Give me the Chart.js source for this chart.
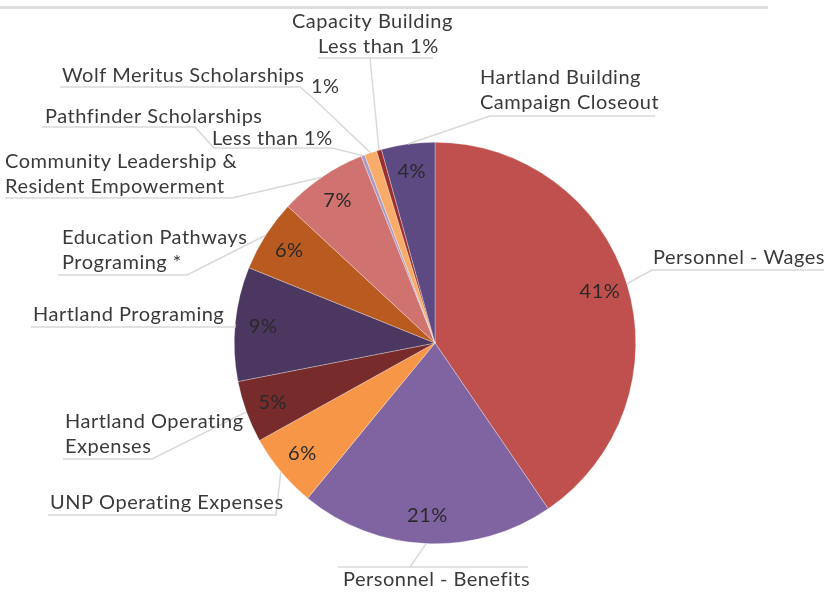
<!DOCTYPE html>
<html>
<head>
<meta charset="utf-8">
<script src="https://cdn.jsdelivr.net/npm/chart.js"></script>
<style>
  body { margin: 0; background: #fff; }
  #wrap { position: relative; width: 825px; height: 593px; }
  #topline { position: absolute; left: 0; top: 6px; width: 768px; height: 3px; background: #dedede; }
</style>
</head>
<body>
<div id="wrap">
  <div id="topline"></div>
  <canvas id="myChart" width="825" height="593"></canvas>
</div>
<script>
// slices, clockwise from 12 o'clock
const categories = ['Personnel - Wages', 'Personnel - Benefits', 'UNP Operating Expenses',
    'Hartland Operating Expenses', 'Hartland Programing', 'Education Pathways Programing *',
    'Community Leadership & Resident Empowerment', 'Pathfinder Scholarships',
    'Wolf Meritus Scholarships', 'Capacity Building', 'Hartland Building Campaign Closeout'];
const values = [40.5, 20.5, 6, 5, 9.2, 5.8, 7.1, 0.3, 1.0, 0.4, 4.3];
const pctLabels = ['41%', '21%', '6%', '5%', '9%', '6%', '7%', 'Less than 1%', '1%', 'Less than 1%', '4%'];
const colors = ['#c0504d', '#8064a2', '#f79646', '#772b2b', '#4b3760', '#b95b20',
    '#cf7270', '#a99bc6', '#f9ac6a', '#9c2f2c', '#5e4a82'];

// where the callout text of each slice sits (text lines, rule under it, leader start)
const callouts = [
    { lines: ['Personnel - Wages'], x: 653, y: 258, path: [[824, 270], [652, 270]] },
    { lines: ['Personnel - Benefits'], x: 343, y: 580, rule: [338, 528, 567], path: [[410, 567]] },
    { lines: ['UNP Operating Expenses'], x: 50, y: 503, path: [[48, 515], [276, 515]] },
    { lines: ['Hartland Operating', 'Expenses'], x: 65, y: 422, path: [[63, 459], [152, 459]] },
    { lines: ['Hartland Programing'], x: 33, y: 315, path: [[31, 327], [235, 327]] },
    { lines: ['Education Pathways', 'Programing *'], x: 62, y: 238, path: [[58, 275], [187, 275]] },
    { lines: ['Community Leadership &', 'Resident Empowerment'], x: 5, y: 162, path: [[5, 198], [232, 198]] },
    { lines: ['Pathfinder Scholarships'], x: 45, y: 117, value: [212, 139],
      path: [[42, 127], [195, 127], [214, 148], [332, 148]] },
    { lines: ['Wolf Meritus Scholarships'], x: 62, y: 76, value: [311, 87],
      path: [[60, 87], [300, 87], [313, 98]] },
    { lines: ['Capacity Building'], x: 292, y: 22, value: [318, 47], rule: [318, 433, 58], path: [[370, 58]] },
    { lines: ['Hartland Building', 'Campaign Closeout'], x: 480, y: 78, path: [[655, 116], [490, 116]] },
];

const FONT = '20px Lato';
const TEXT = '#3a3a3a';

const calloutPlugin = {
    id: 'callouts',
    afterDatasetsDraw(chart) {
        const ctx = chart.ctx;
        const arcs = chart.getDatasetMeta(0).data;
        ctx.save();
        ctx.font = FONT;
        ctx.letterSpacing = '0.5px';
        ctx.textBaseline = 'middle';
        arcs.forEach((arc, i) => {
            const p = arc.getProps(['x', 'y', 'startAngle', 'endAngle', 'outerRadius'], true);
            const mid = (p.startAngle + p.endAngle) / 2;
            const c = callouts[i];

            // leader line
            ctx.strokeStyle = '#d9d9d9';
            ctx.lineWidth = 1.5;
            if (c.rule) {
                ctx.beginPath();
                ctx.moveTo(c.rule[0], c.rule[2]);
                ctx.lineTo(c.rule[1], c.rule[2]);
                ctx.stroke();
            }
            ctx.beginPath();
            c.path.forEach((pt, k) => k ? ctx.lineTo(pt[0], pt[1]) : ctx.moveTo(pt[0], pt[1]));
            ctx.lineTo(p.x + Math.cos(mid) * p.outerRadius, p.y + Math.sin(mid) * p.outerRadius);
            ctx.stroke();

            // category text
            ctx.fillStyle = TEXT;
            ctx.textAlign = 'left';
            c.lines.forEach((t, k) => ctx.fillText(t, c.x, c.y + k * 25));

            // value text
            if (c.value) {
                ctx.fillText(pctLabels[i], c.value[0], c.value[1]);
            } else {
                const r = p.outerRadius * 0.86;
                ctx.textAlign = 'center';
                ctx.fillStyle = '#2a2a2a';
                ctx.fillText(pctLabels[i], p.x + Math.cos(mid) * r, p.y + Math.sin(mid) * r);
            }
        });
        ctx.restore();
    }
};

new Chart(document.getElementById('myChart'), {
    type: 'pie',
    data: {
        labels: categories,
        datasets: [{
            data: values,
            backgroundColor: colors,
            borderColor: 'rgba(255,255,255,0.6)',
            borderWidth: 0.5,
        }],
    },
    options: {
        responsive: false,
        animation: false,
        layout: { padding: { left: 234, right: 189, top: 142, bottom: 49 } },
        plugins: {
            legend: { display: false },
            tooltip: { enabled: false },
        },
    },
    plugins: [calloutPlugin],
});
</script>
</body>
</html>
